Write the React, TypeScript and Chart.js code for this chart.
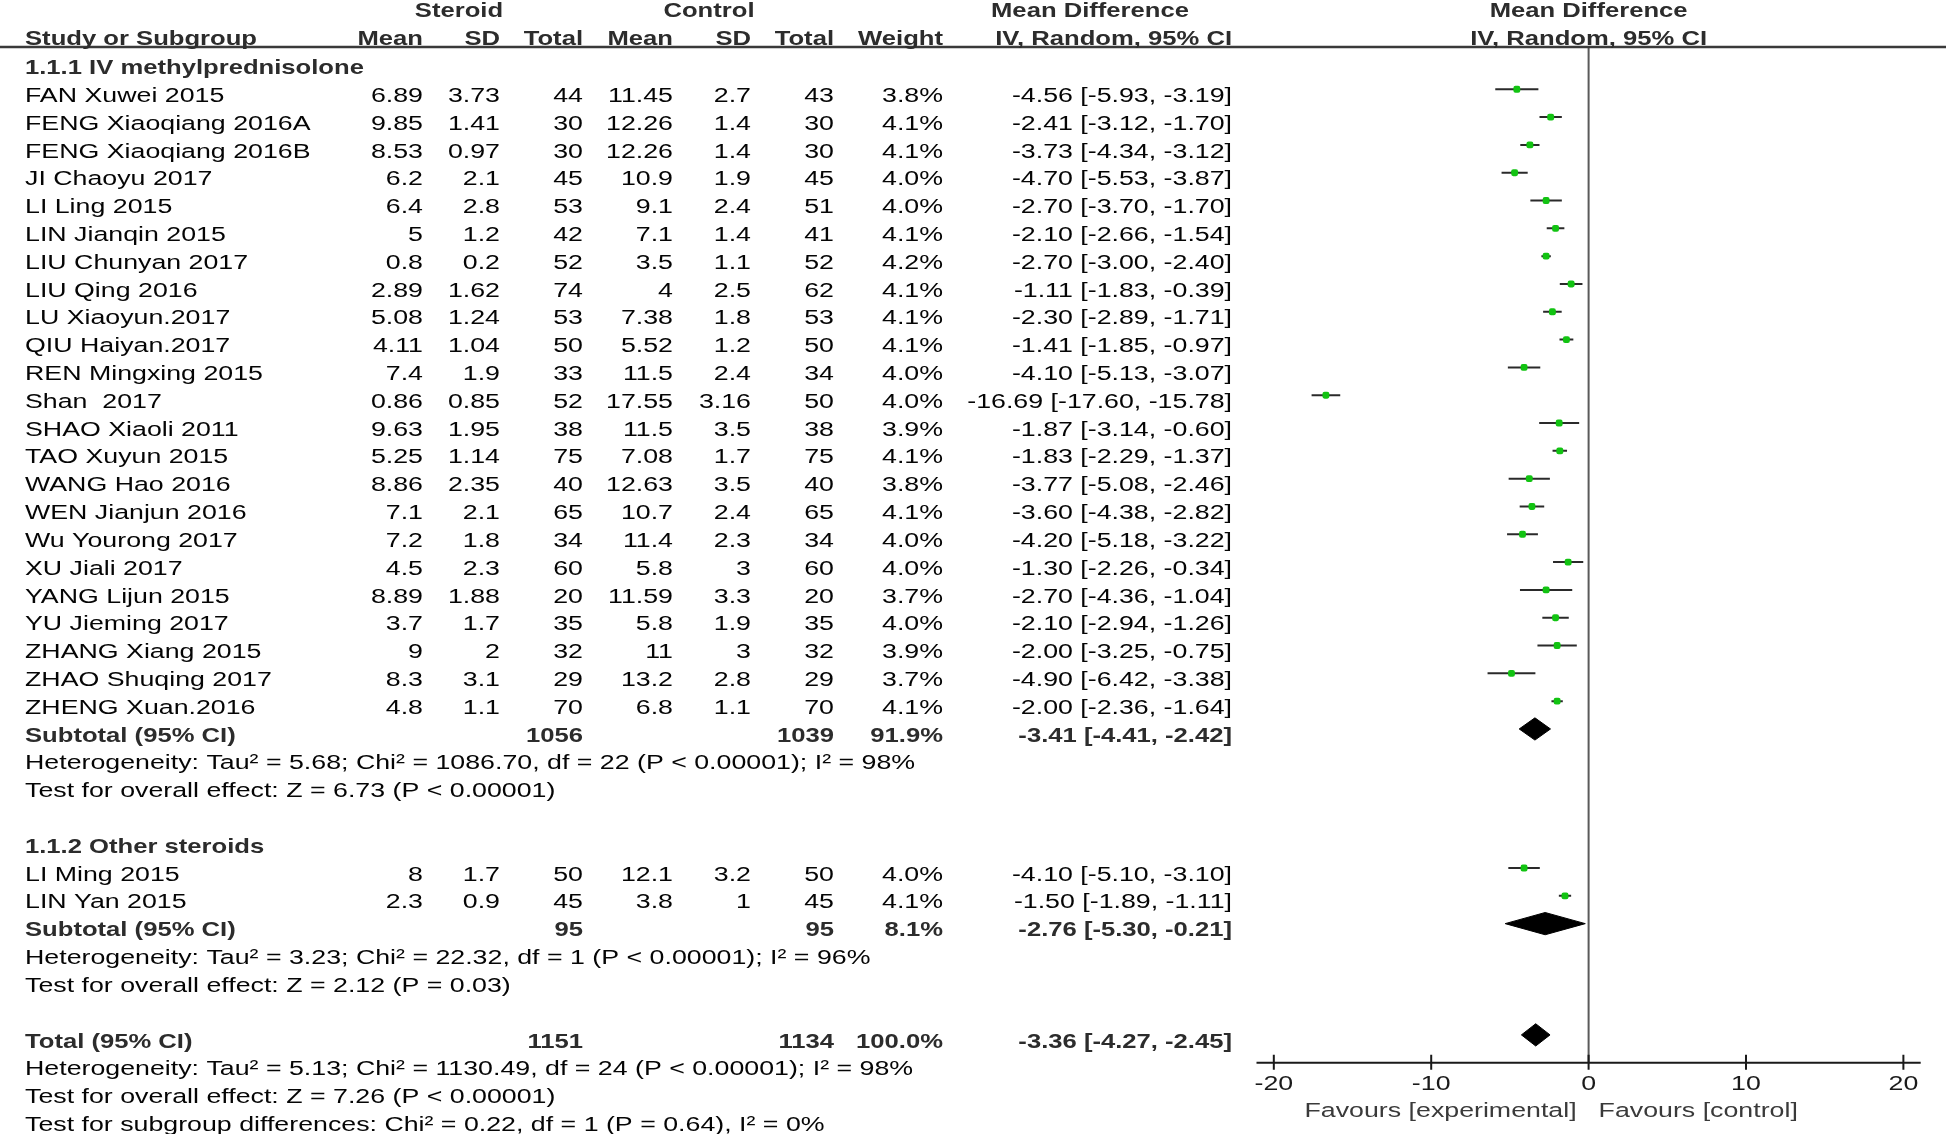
import React, { useEffect, useRef } from "react";
import { Chart, registerables } from "chart.js";

Chart.register(...registerables);

// ---------------- DATA ----------------
const subgroupTitles = ["1.1.1 IV methylprednisolone", "1.1.2 Other steroids"];

const studies = [
  "FAN Xuwei 2015", "FENG Xiaoqiang 2016A", "FENG Xiaoqiang 2016B", "JI Chaoyu 2017",
  "LI Ling 2015", "LIN Jianqin 2015", "LIU Chunyan 2017", "LIU Qing 2016",
  "LU Xiaoyun.2017", "QIU Haiyan.2017", "REN Mingxing 2015", "Shan  2017",
  "SHAO Xiaoli 2011", "TAO Xuyun 2015", "WANG Hao 2016", "WEN Jianjun 2016",
  "Wu Yourong 2017", "XU Jiali 2017", "YANG Lijun 2015", "YU Jieming 2017",
  "ZHANG Xiang 2015", "ZHAO Shuqing 2017", "ZHENG Xuan.2016",
  "LI Ming 2015", "LIN Yan 2015",
];
const studyGroup = [0,0,0,0,0,0,0,0,0,0,0,0,0,0,0,0,0,0,0,0,0,0,0,1,1];

const expMean = [6.89, 9.85, 8.53, 6.2, 6.4, 5, 0.8, 2.89, 5.08, 4.11, 7.4, 0.86, 9.63, 5.25, 8.86, 7.1, 7.2, 4.5, 8.89, 3.7, 9, 8.3, 4.8, 8, 2.3];
const expSD = [3.73, 1.41, 0.97, 2.1, 2.8, 1.2, 0.2, 1.62, 1.24, 1.04, 1.9, 0.85, 1.95, 1.14, 2.35, 2.1, 1.8, 2.3, 1.88, 1.7, 2, 3.1, 1.1, 1.7, 0.9];
const expTotal = [44, 30, 30, 45, 53, 42, 52, 74, 53, 50, 33, 52, 38, 75, 40, 65, 34, 60, 20, 35, 32, 29, 70, 50, 45];
const ctlMean = [11.45, 12.26, 12.26, 10.9, 9.1, 7.1, 3.5, 4, 7.38, 5.52, 11.5, 17.55, 11.5, 7.08, 12.63, 10.7, 11.4, 5.8, 11.59, 5.8, 11, 13.2, 6.8, 12.1, 3.8];
const ctlSD = [2.7, 1.4, 1.4, 1.9, 2.4, 1.4, 1.1, 2.5, 1.8, 1.2, 2.4, 3.16, 3.5, 1.7, 3.5, 2.4, 2.3, 3, 3.3, 1.9, 3, 2.8, 1.1, 3.2, 1];
const ctlTotal = [43, 30, 30, 45, 51, 41, 52, 62, 53, 50, 34, 50, 38, 75, 40, 65, 34, 60, 20, 35, 32, 29, 70, 50, 45];
const weights = [3.8, 4.1, 4.1, 4.0, 4.0, 4.1, 4.2, 4.1, 4.1, 4.1, 4.0, 4.0, 3.9, 4.1, 3.8, 4.1, 4.0, 4.0, 3.7, 4.0, 3.9, 3.7, 4.1, 4.0, 4.1];
const meanDiff = [-4.56, -2.41, -3.73, -4.70, -2.70, -2.10, -2.70, -1.11, -2.30, -1.41, -4.10, -16.69, -1.87, -1.83, -3.77, -3.60, -4.20, -1.30, -2.70, -2.10, -2.00, -4.90, -2.00, -4.10, -1.50];
const ciLow = [-5.93, -3.12, -4.34, -5.53, -3.70, -2.66, -3.00, -1.83, -2.89, -1.85, -5.13, -17.60, -3.14, -2.29, -5.08, -4.38, -5.18, -2.26, -4.36, -2.94, -3.25, -6.42, -2.36, -5.10, -1.89];
const ciHigh = [-3.19, -1.70, -3.12, -3.87, -1.70, -1.54, -2.40, -0.39, -1.71, -0.97, -3.07, -15.78, -0.60, -1.37, -2.46, -2.82, -3.22, -0.34, -1.04, -1.26, -0.75, -3.38, -1.64, -3.10, -1.11];

const subtotalExpTotal = [1056, 95];
const subtotalCtlTotal = [1039, 95];
const subtotalWeight = [91.9, 8.1];
const subtotalMD = [-3.41, -2.76];
const subtotalLow = [-4.41, -5.30];
const subtotalHigh = [-2.42, -0.21];
const subtotalHeterogeneity = [
  "Heterogeneity: Tau\u00B2 = 5.68; Chi\u00B2 = 1086.70, df = 22 (P < 0.00001); I\u00B2 = 98%",
  "Heterogeneity: Tau\u00B2 = 3.23; Chi\u00B2 = 22.32, df = 1 (P < 0.00001); I\u00B2 = 96%",
];
const subtotalEffect = [
  "Test for overall effect: Z = 6.73 (P < 0.00001)",
  "Test for overall effect: Z = 2.12 (P = 0.03)",
];

const totalExpTotal = 1151;
const totalCtlTotal = 1134;
const totalWeight = 100.0;
const totalMD = -3.36;
const totalLow = -4.27;
const totalHigh = -2.45;
const totalNotes = [
  "Heterogeneity: Tau\u00B2 = 5.13; Chi\u00B2 = 1130.49, df = 24 (P < 0.00001); I\u00B2 = 98%",
  "Test for overall effect: Z = 7.26 (P < 0.00001)",
  "Test for subgroup differences: Chi\u00B2 = 0.22, df = 1 (P = 0.64), I\u00B2 = 0%",
];

const tickValues = [-20, -10, 0, 10, 20];
const favourLeft = "Favours [experimental]";
const favourRight = "Favours [control]";

// ---------------- LAYOUT (row indices) ----------------
type Row = { kind: string; row: number; idx?: number; text?: string };
const rows: Row[] = [];
const studyRow: number[] = new Array(studies.length).fill(0);
const subtotalRow: number[] = [];
let totalRow = 0;
(() => {
  let r = 0;
  for (let g = 0; g < subgroupTitles.length; g++) {
    rows.push({ kind: "group", row: r, text: subgroupTitles[g] });
    r++;
    for (let k = 0; k < studies.length; k++) {
      if (studyGroup[k] !== g) continue;
      studyRow[k] = r;
      rows.push({ kind: "study", row: r, idx: k });
      r++;
    }
    subtotalRow.push(r);
    rows.push({ kind: "subtotal", row: r, idx: g });
    r++;
    rows.push({ kind: "note", row: r, text: subtotalHeterogeneity[g] });
    r++;
    rows.push({ kind: "note", row: r, text: subtotalEffect[g] });
    r += 2;
  }
  totalRow = r;
  rows.push({ kind: "total", row: r });
  r++;
  for (const t of totalNotes) {
    rows.push({ kind: "note", row: r, text: t });
    r++;
  }
})();

const W = 1946;
const H = 1134;
const FONT = '"Liberation Sans", Arial, sans-serif';
const FS = 20.5;
const SX = 1.305;
const SX_BOLD = 1.25;
const TEXT_DY = 7;
const COL = { name: 25, eMean: 423, eSD: 500, eTot: 583, cMean: 673, cSD: 751, cTot: 834, weight: 943, ci: 1232 };
const NORMAL = "#050505";
const BOLDC = "#2c2c2c";

function drawText(ctx: CanvasRenderingContext2D, s: string, x: number, y: number, align: CanvasTextAlign, bold = false, color = NORMAL, size = FS) {
  ctx.save();
  ctx.font = `${bold ? "bold " : ""}${size}px ${FONT}`;
  ctx.fillStyle = color;
  ctx.textBaseline = "middle";
  ctx.textAlign = align;
  ctx.translate(x, y);
  ctx.scale(bold ? SX_BOLD : SX, 1);
  ctx.fillText(s, 0, 0);
  ctx.restore();
}

const fmtCI = (m: number, l: number, h: number) => `${m.toFixed(2)} [${l.toFixed(2)}, ${h.toFixed(2)}]`;

const forestPlugin = {
  id: "forestDecor",
  beforeDatasetsDraw(chart: any) {
    const ctx = chart.ctx as CanvasRenderingContext2D;
    const { top, bottom } = chart.chartArea;
    const x0 = chart.scales.x.getPixelForValue(0);
    ctx.save();
    ctx.strokeStyle = "#5a5a5a";
    ctx.lineWidth = 2;
    ctx.beginPath();
    ctx.moveTo(x0, top);
    ctx.lineTo(x0, bottom);
    ctx.stroke();
    ctx.restore();
  },
  afterDraw(chart: any) {
    const ctx = chart.ctx as CanvasRenderingContext2D;
    const xs = chart.scales.x;
    const ys = chart.scales.y;
    const { left, right, top, bottom } = chart.chartArea;
    const ty = (r: number) => ys.getPixelForValue(r) + TEXT_DY;

    // header line
    ctx.save();
    ctx.strokeStyle = "#3a3a3a";
    ctx.lineWidth = 2.5;
    ctx.beginPath();
    ctx.moveTo(0, top);
    ctx.lineTo(W, top);
    ctx.stroke();
    ctx.restore();

    // headers
    const h1 = ty(-2) - 1;
    const h2 = ty(-1) - 1;
    drawText(ctx, "Steroid", 459, h1, "center", true, BOLDC);
    drawText(ctx, "Control", 709, h1, "center", true, BOLDC);
    drawText(ctx, "Mean Difference", 1090, h1, "center", true, BOLDC);
    drawText(ctx, "Mean Difference", xs.getPixelForValue(0), h1, "center", true, BOLDC);
    drawText(ctx, "Study or Subgroup", COL.name, h2, "left", true, BOLDC);
    drawText(ctx, "Mean", COL.eMean, h2, "right", true, BOLDC);
    drawText(ctx, "SD", COL.eSD, h2, "right", true, BOLDC);
    drawText(ctx, "Total", COL.eTot, h2, "right", true, BOLDC);
    drawText(ctx, "Mean", COL.cMean, h2, "right", true, BOLDC);
    drawText(ctx, "SD", COL.cSD, h2, "right", true, BOLDC);
    drawText(ctx, "Total", COL.cTot, h2, "right", true, BOLDC);
    drawText(ctx, "Weight", COL.weight, h2, "right", true, BOLDC);
    drawText(ctx, "IV, Random, 95% CI", COL.ci, h2, "right", true, BOLDC);
    drawText(ctx, "IV, Random, 95% CI", xs.getPixelForValue(0), h2, "center", true, BOLDC);

    for (const r of rows) {
      const y = ty(r.row);
      if (r.kind === "group") {
        drawText(ctx, r.text as string, COL.name, y, "left", true, BOLDC);
      } else if (r.kind === "study") {
        const k = r.idx as number;
        drawText(ctx, studies[k], COL.name, y, "left");
        drawText(ctx, String(expMean[k]), COL.eMean, y, "right");
        drawText(ctx, String(expSD[k]), COL.eSD, y, "right");
        drawText(ctx, String(expTotal[k]), COL.eTot, y, "right");
        drawText(ctx, String(ctlMean[k]), COL.cMean, y, "right");
        drawText(ctx, String(ctlSD[k]), COL.cSD, y, "right");
        drawText(ctx, String(ctlTotal[k]), COL.cTot, y, "right");
        drawText(ctx, weights[k].toFixed(1) + "%", COL.weight, y, "right");
        drawText(ctx, fmtCI(meanDiff[k], ciLow[k], ciHigh[k]), COL.ci, y, "right");
      } else if (r.kind === "subtotal") {
        const g = r.idx as number;
        drawText(ctx, "Subtotal (95% CI)", COL.name, y, "left", true, BOLDC);
        drawText(ctx, String(subtotalExpTotal[g]), COL.eTot, y, "right", true, BOLDC);
        drawText(ctx, String(subtotalCtlTotal[g]), COL.cTot, y, "right", true, BOLDC);
        drawText(ctx, subtotalWeight[g].toFixed(1) + "%", COL.weight, y, "right", true, BOLDC);
        drawText(ctx, fmtCI(subtotalMD[g], subtotalLow[g], subtotalHigh[g]), COL.ci, y, "right", true, BOLDC);
      } else if (r.kind === "total") {
        drawText(ctx, "Total (95% CI)", COL.name, y, "left", true, BOLDC);
        drawText(ctx, String(totalExpTotal), COL.eTot, y, "right", true, BOLDC);
        drawText(ctx, String(totalCtlTotal), COL.cTot, y, "right", true, BOLDC);
        drawText(ctx, totalWeight.toFixed(1) + "%", COL.weight, y, "right", true, BOLDC);
        drawText(ctx, fmtCI(totalMD, totalLow, totalHigh), COL.ci, y, "right", true, BOLDC);
      } else if (r.kind === "note") {
        drawText(ctx, r.text as string, COL.name, y, "left");
      }
    }

    // x axis
    ctx.save();
    ctx.strokeStyle = "#1a1a1a";
    ctx.lineWidth = 2;
    ctx.beginPath();
    ctx.moveTo(left, bottom);
    ctx.lineTo(right, bottom);
    for (const t of tickValues) {
      const px = xs.getPixelForValue(t);
      ctx.moveTo(px, bottom - 8);
      ctx.lineTo(px, bottom + 7);
    }
    ctx.stroke();
    ctx.restore();
    for (const t of tickValues) {
      drawText(ctx, String(t), xs.getPixelForValue(t), bottom + 22, "center", false, "#1a1a1a");
    }
    const x0 = xs.getPixelForValue(0);
    drawText(ctx, favourLeft, x0 - 12, bottom + 49, "right", false, "#3a3a3a");
    drawText(ctx, favourRight, x0 + 10, bottom + 49, "left", false, "#3a3a3a");
  },
};

export default function App() {
  const ref = useRef<HTMLCanvasElement | null>(null);
  useEffect(() => {
    document.body.style.margin = "0";
    document.body.style.overflow = "hidden";
    const canvas = ref.current;
    if (!canvas) return;

    const datasets: any[] = [];
    // study point estimates
    datasets.push({
      type: "scatter",
      label: "Study",
      data: studies.map((_, k) => ({ x: meanDiff[k], y: studyRow[k] })),
      pointStyle: "rectRounded",
      pointRadius: 4,
      pointBackgroundColor: "#12c312",
      pointBorderWidth: 0,
      order: 0,
    });
    // CI lines
    studies.forEach((_, k) => {
      datasets.push({
        type: "scatter",
        label: "CI " + studies[k],
        data: [
          { x: ciLow[k], y: studyRow[k] },
          { x: ciHigh[k], y: studyRow[k] },
        ],
        showLine: true,
        borderColor: "#2a2a2a",
        borderWidth: 2,
        pointRadius: 0,
        order: 1,
      });
    });
    // diamonds
    const DH = 0.4;
    const diamonds = [
      ...subtotalMD.map((m, g) => ({ m, l: subtotalLow[g], h: subtotalHigh[g], r: subtotalRow[g] })),
      { m: totalMD, l: totalLow, h: totalHigh, r: totalRow },
    ];
    diamonds.forEach((d, i) => {
      datasets.push({
        type: "scatter",
        label: "Summary " + i,
        data: [
          { x: d.l, y: d.r },
          { x: d.m, y: d.r - DH },
          { x: d.h, y: d.r },
          { x: d.m, y: d.r + DH },
          { x: d.l, y: d.r },
        ],
        showLine: true,
        fill: "shape",
        backgroundColor: "#000000",
        borderColor: "#000000",
        borderWidth: 1,
        pointRadius: 0,
        order: 2,
      });
    });

    const chart = new Chart(canvas, {
      type: "scatter",
      data: { datasets },
      options: {
        responsive: false,
        animation: false,
        devicePixelRatio: 1,
        layout: { padding: { left: 1256.5, right: 25.3, top: 47, bottom: 71.3 } },
        scales: {
          x: { type: "linear", min: -21.1, max: 21.1, display: false },
          y: { type: "linear", min: -0.52, max: 36.0, reverse: true, display: false },
        },
        plugins: {
          legend: { display: false },
          tooltip: { enabled: false },
        },
      },
      plugins: [forestPlugin],
    } as any);
    return () => chart.destroy();
  }, []);
  return (
    <canvas ref={ref} width={W} height={H} style={{ display: "block", width: W + "px", height: H + "px" }} />
  );
}
